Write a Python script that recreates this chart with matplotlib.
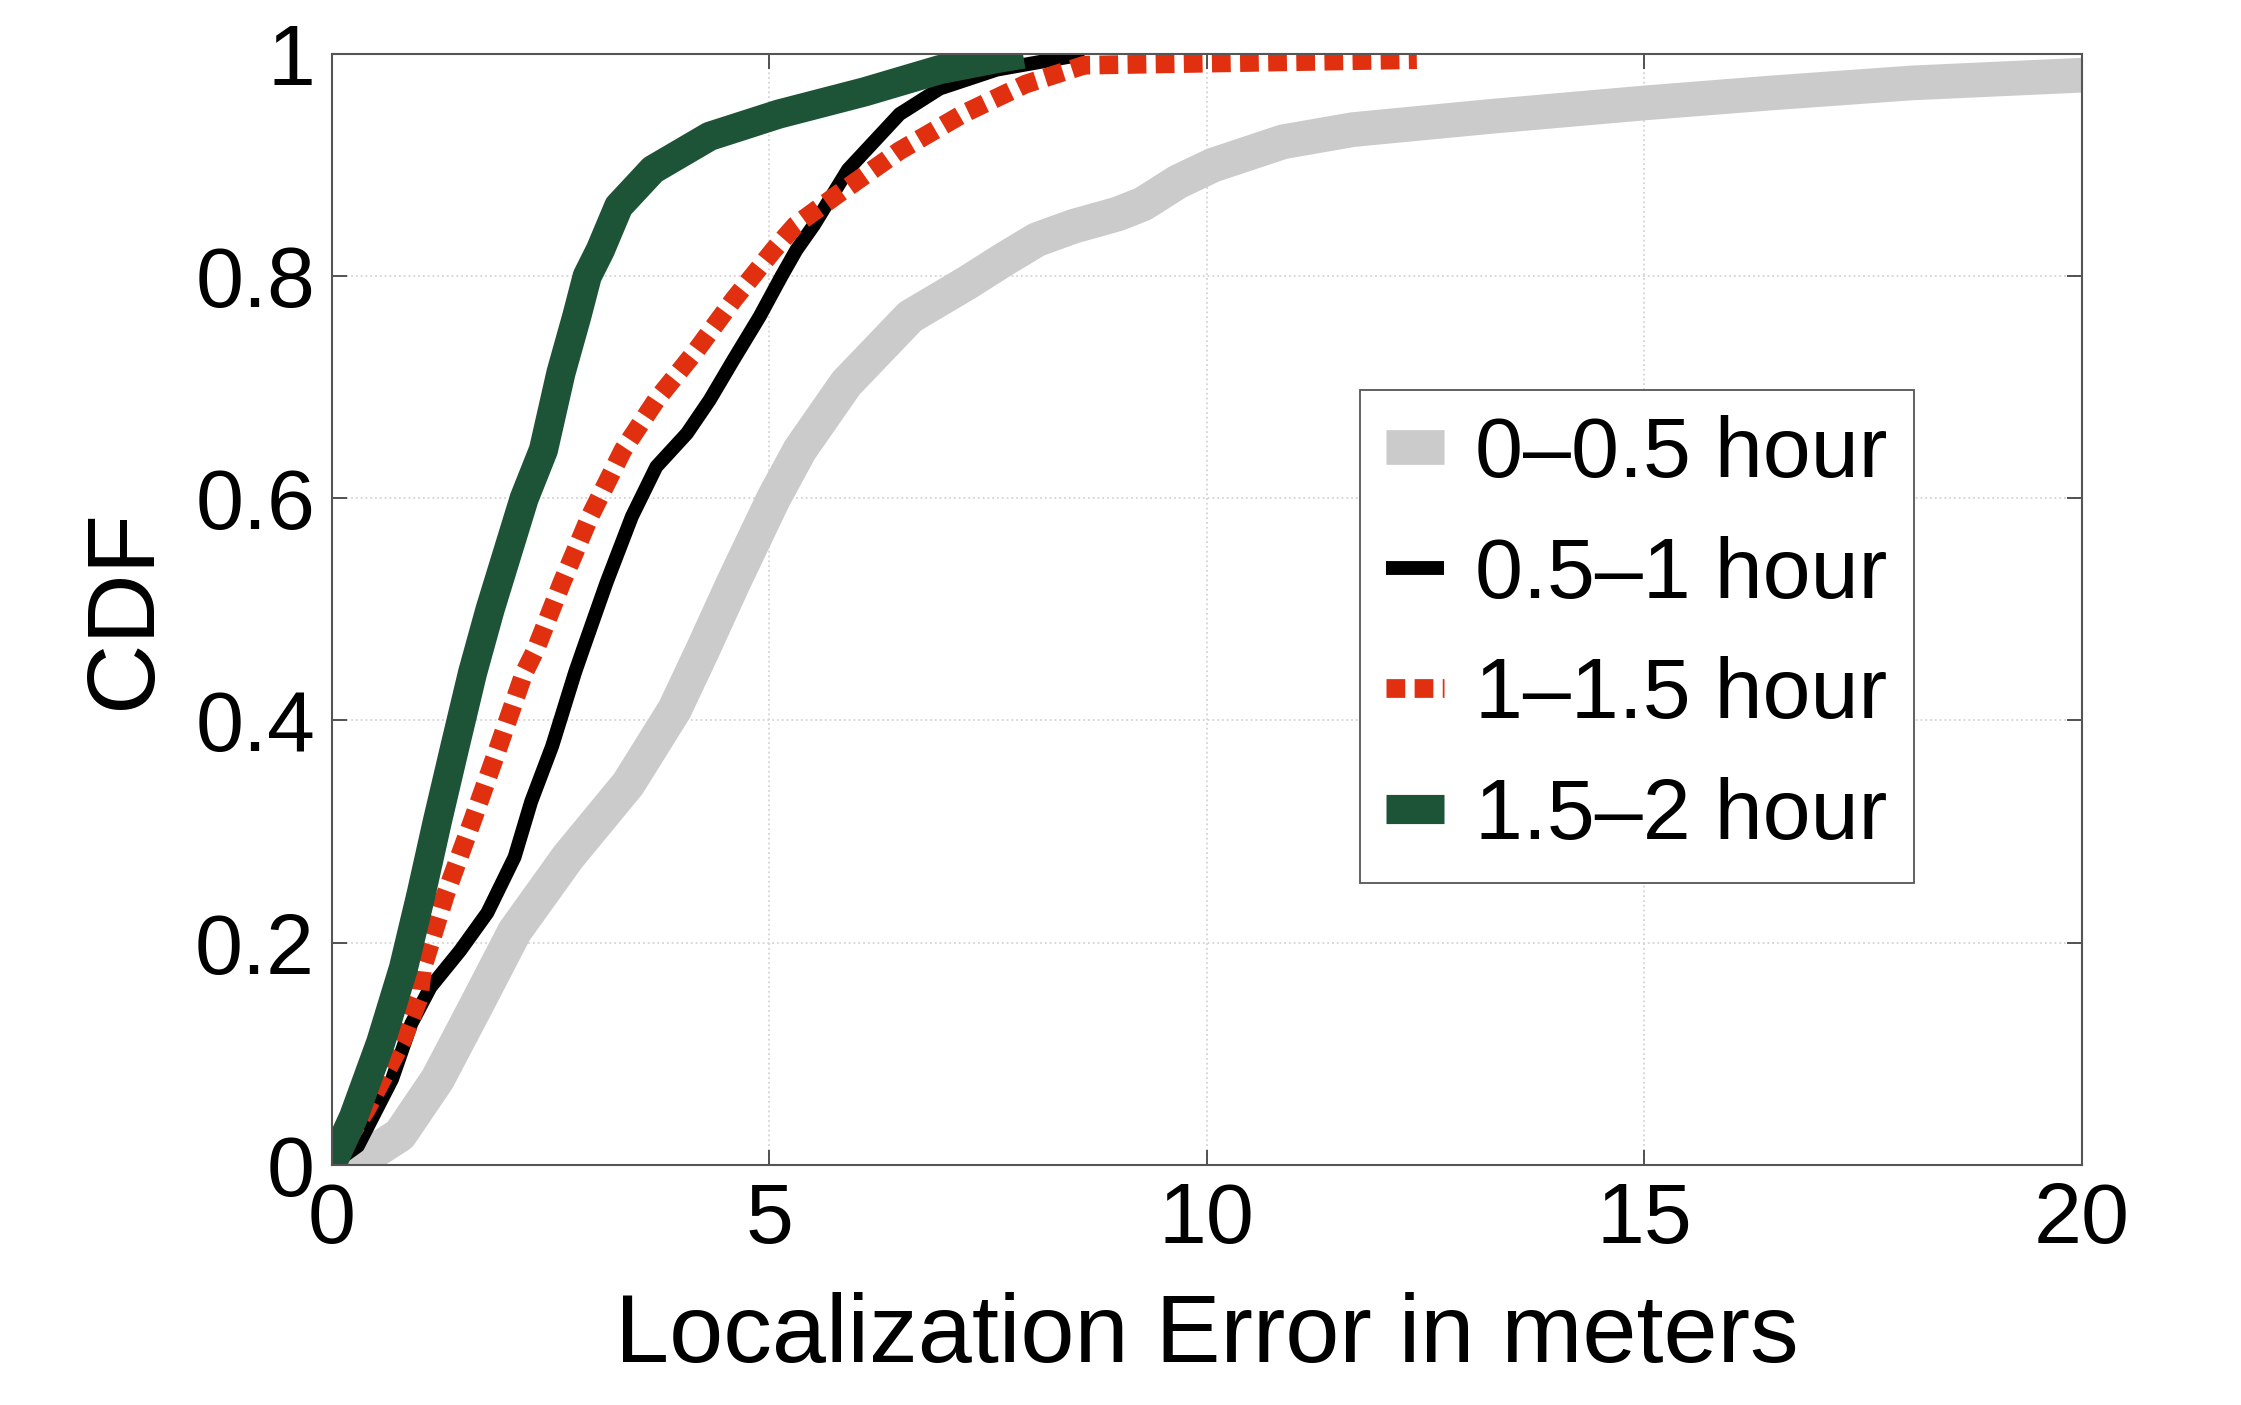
import matplotlib
matplotlib.use("Agg")
from matplotlib import pyplot as plt

plt.rcParams['font.family'] = ['Liberation Sans', 'DejaVu Sans']

# CDF curves (x = error in meters, y = CDF)
gray_x = [0, 0.25, 0.78, 1.21, 1.65, 2.09, 2.7, 3.39, 3.92, 4.24, 4.59, 5.05, 5.35, 5.88,
          6.61, 7.26, 7.68, 8.06, 8.48, 8.98, 9.27, 9.67, 10.07, 10.87, 11.67,
          13.26, 15, 16.45, 18.05, 20]
gray_y = [0, 0.0, 0.027, 0.077, 0.143, 0.21, 0.277, 0.343, 0.41, 0.4635, 0.524, 0.6,
          0.6436, 0.7036, 0.7636, 0.794, 0.815, 0.833, 0.845, 0.856, 0.865, 0.885, 0.9,
          0.921, 0.932, 0.944, 0.956, 0.965, 0.974, 0.981]

black_x = [0, 0.3, 0.69, 0.91, 1.13, 1.47, 1.78, 2.09, 2.28, 2.52, 2.78, 2.87, 3.14,
           3.43, 3.71, 4.06, 4.32, 4.59, 4.89, 5.14, 5.31, 5.51, 5.9, 6.49, 6.95, 7.6, 8.6]
black_y = [0, 0.017, 0.077, 0.127, 0.16, 0.193, 0.227, 0.277, 0.327, 0.377, 0.443, 0.4635,
           0.524, 0.5835, 0.6285, 0.6585, 0.6886, 0.7246, 0.7636, 0.8, 0.8236, 0.846,
           0.896, 0.946, 0.969, 0.986, 1.0]

red_x = [0, 0.4, 0.8, 1.0, 1.04, 1.3, 1.61, 1.91, 2.2, 2.33, 2.63, 2.95, 3.33, 3.71,
         4.17, 4.59, 5.05, 5.3, 5.77, 6.49, 7.21, 7.93, 8.6, 12.4]
red_y = [0, 0.05, 0.11, 0.15, 0.177, 0.243, 0.31, 0.377, 0.443, 0.4635, 0.524, 0.5835,
         0.6436, 0.6886, 0.7336, 0.7786, 0.8236, 0.846, 0.873, 0.913, 0.946, 0.973,
         0.99, 0.995]

green_x = [0, 0.25, 0.56, 0.82, 1.02, 1.21, 1.41, 1.61, 1.81, 2.2, 2.42, 2.62, 2.8,
           2.92, 3.07, 3.28, 3.67, 4.32, 5.11, 6.09, 6.95, 7.6, 7.9]
green_y = [0, 0.043, 0.11, 0.177, 0.243, 0.31, 0.377, 0.443, 0.5, 0.6, 0.6436, 0.713,
           0.7636, 0.8, 0.8236, 0.863, 0.896, 0.926, 0.946, 0.966, 0.986, 0.996, 1.0]

labels = ['0\u20130.5 hour', '0.5\u20131 hour', '1\u20131.5 hour', '1.5\u20132 hour']
colors = ['#cbcbcb', '#000000', '#e0300f', '#1d5438']
widths = [25, 10, 13.5, 21]

xticks = [0, 5, 10, 15, 20]
yticks = [0, 0.2, 0.4, 0.6, 0.8, 1.0]
yticklabels = ['0', '0.2', '0.4', '0.6', '0.8', '1']

fig = plt.figure(figsize=[22.41, 14.05], dpi=100)
ax = fig.add_axes([0.148, 0.171, 0.781, 0.7905])

ax.plot(gray_x, gray_y, color=colors[0], lw=widths[0], solid_capstyle='butt',
        solid_joinstyle='round', label=labels[0])
ax.plot(black_x, black_y, color=colors[1], lw=widths[1], solid_capstyle='butt',
        solid_joinstyle='round', label=labels[1])
ax.plot(red_x, red_y, color=colors[2], lw=widths[2], linestyle=(0, (1.0, 0.5)),
        dash_capstyle='butt', label=labels[2])
ax.plot(green_x, green_y, color=colors[3], lw=widths[3], solid_capstyle='butt',
        solid_joinstyle='round', label=labels[3])

ax.set_xlim(0, 20)
ax.set_ylim(0, 1)
ax.set_xticks(xticks)
ax.set_xticklabels([str(t) for t in xticks])
ax.set_yticks(yticks)
ax.set_yticklabels(yticklabels)
ax.tick_params(direction='in', length=11, width=1.3, colors='#444444',
               labelcolor='black', labelsize=62, top=True, right=True, pad=12)
ax.grid(True, linestyle=':', color='#d4d4d4', linewidth=1.3)
for s in ax.spines.values():
    s.set_color('#555555')
    s.set_linewidth(1.5)

ax.set_xlabel('Localization Error in meters', fontsize=70, labelpad=22)
ax.set_ylabel('CDF', fontsize=70, labelpad=18)

leg = ax.legend(loc='upper left', bbox_to_anchor=(0.5875, 0.698), borderaxespad=0,
                fontsize=62, handlelength=0.68, handletextpad=0.36, labelspacing=0.47,
                borderpad=0.3, frameon=True, fancybox=False, framealpha=1)
leg.get_frame().set_edgecolor('#555555')
leg.get_frame().set_linewidth(1.3)
for ln in leg.get_lines():
    ln.set_solid_capstyle('butt')
    ln.set_dash_capstyle('butt')

plt.savefig('out.png', dpi=100)
